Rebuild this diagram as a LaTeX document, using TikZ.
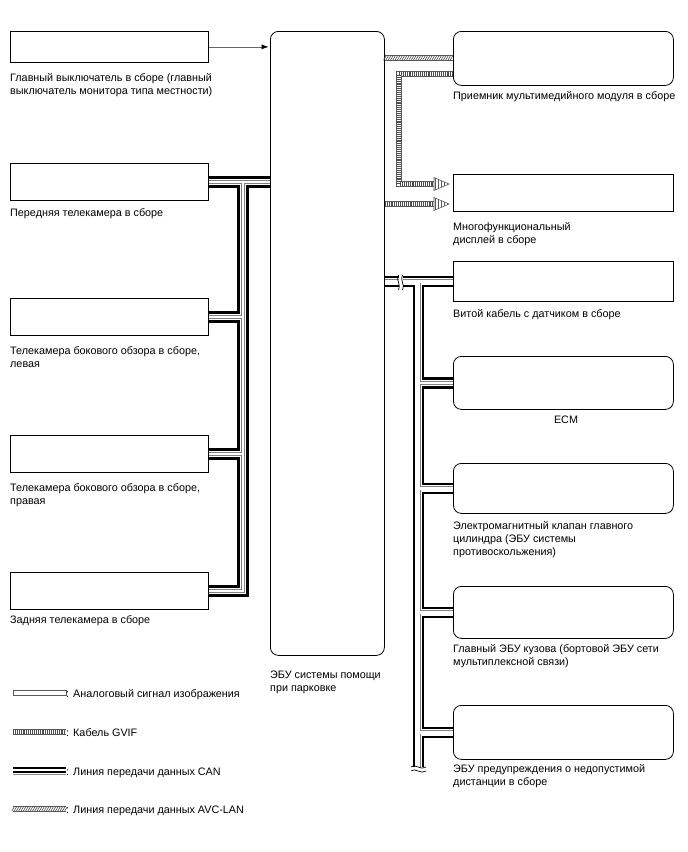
\documentclass[tikz,border=0pt]{standalone}
\usepackage{fontspec}
\setmainfont{Liberation Sans}
\usepackage{tikz}
\usetikzlibrary{positioning, arrows.meta, calc, decorations.markings, patterns}

\tikzset{
  blok/.style={draw=black, line width=0.8pt, anchor=north west, inner sep=0pt, minimum width=198pt},
  kblok/.style={blok, minimum width=220pt},
  rblok/.style={kblok, rounded corners=8pt},
  podpis/.style={anchor=base west, align=left, inner sep=0pt},
  gvif/.style={draw=black!70, line width=4.4pt, dash pattern=on 0.8pt off 1.1pt,
    preaction={draw=black!65, line width=6pt, solid},
    preaction={draw=white, line width=4.4pt, solid}},
  avclan/.style={draw=white, line width=4.6pt, preaction={draw=black!65, line width=6pt},
    postaction={decorate, decoration={markings, mark=between positions 0 and 1 step 2.3pt with
      {\draw[black!70, line width=0.6pt] (-1.3pt,-2.2pt) -- (1.3pt,2.2pt);}}}},
  strelka/.style={draw=black!65, line width=0.6pt, pattern=vertical lines, pattern color=black!65},
  razryv/.style={draw=black, line width=0.7pt},
}

\begin{document}
\begin{tikzpicture}[x=1pt, y=-1pt, font=\fontsize{10.8}{13}\selectfont]
        \fill[white] (0,0) rectangle (688,852);
        \useasboundingbox (0,0) rectangle (688,852);

        % ЭБУ системы помощи при парковке
        \node[blok, rounded corners=8pt, minimum width=114pt, minimum height=624pt] (ecu) at (270,31) {};
        \node[podpis] (ecul) at (270,691) {ЭБУ системы помощи\\при парковке};

        % Левые блоки (подписи по базовой линии последней строки)
        \node[blok, minimum height=31pt] (sw) at (10,31) {};
        \node[blok, minimum height=37pt] (cam1) at (10,163) {};
        \node[blok, minimum height=37pt] (cam2) at (10,298) {};
        \node[blok, minimum height=37pt] (cam3) at (10,435) {};
        \node[blok, minimum height=37pt] (cam4) at (10,572) {};
        \node[podpis] (swl) at (10,94) {Главный выключатель в сборе (главный\\выключатель монитора типа местности)};
        \node[podpis] (cam1l) at (10,216) {Передняя телекамера в сборе};
        \node[podpis] (cam2l) at (10,367) {Телекамера бокового обзора в сборе,\\левая};
        \node[podpis] (cam3l) at (10,504) {Телекамера бокового обзора в сборе,\\правая};
        \node[podpis] (cam4l) at (10,623) {Задняя телекамера в сборе};

        % Правые блоки
        \node[rblok, minimum height=54pt] (r1) at (453,31) {};
        \node[kblok, minimum height=37pt] (r2) at (453,174) {};
        \node[kblok, minimum height=40pt] (r3) at (453,261) {};
        \node[rblok, minimum height=53pt] (r4) at (453,356) {};
        \node[rblok, minimum height=50pt] (r5) at (453,463) {};
        \node[rblok, minimum height=52pt] (r6) at (453,586) {};
        \node[rblok, minimum height=54pt] (r7) at (453,705) {};
        \node[podpis] (r1l) at (453,99) {Приемник мультимедийного модуля в сборе};
        \node[podpis] (r2l) at (453,243) {Многофункциональный\\дисплей в сборе};
        \node[podpis] (r3l) at (453,317) {Витой кабель с датчиком в сборе};
        \node[anchor=base, inner sep=0pt] (r4l) at (566,423) {ECM};
        \node[podpis] (r5l) at (453,555) {Электромагнитный клапан главного\\цилиндра (ЭБУ системы\\противоскольжения)};
        \node[podpis] (r6l) at (453,665) {Главный ЭБУ кузова (бортовой ЭБУ сети\\мультиплексной связи)};
        \node[podpis] (r7l) at (453,785) {ЭБУ предупреждения о недопустимой\\дистанции в сборе};

        % Сигнал главного выключателя
        \draw[black!60, line width=0.6pt, shorten >=1.5pt, -{Latex[length=7pt, width=5pt, color=black]}] (sw.east) -- (sw.east -| ecu.west);

        % Шины CAN: чёрный, белый, серый и белый слои
        \coordinate (tlx) at (243,0);
        \coordinate (trx) at (418.5,0);
        \coordinate (tre) at (418.5,767);
        \foreach \cl/\lw in {black/11.5pt, white/6.5pt, black!50/4pt, white/2.6pt} {
            \draw[draw=\cl, line width=\lw] (cam1.east) -- (cam1.east -| ecu.west);
            \draw[draw=\cl, line width=\lw] (cam4.east) -| (cam1.east -| tlx);
            \draw[draw=\cl, line width=\lw] (cam2.east) -- (cam2.east -| tlx);
            \draw[draw=\cl, line width=\lw] (cam3.east) -- (cam3.east -| tlx);
            \draw[draw=\cl, line width=\lw] (ecu.east |- r3.west) -- (r3.west);
            \draw[draw=\cl, line width=\lw] (r3.west -| trx) -- (tre);
            \foreach \r in {r4,r5,r6,r7}
                \draw[draw=\cl, line width=\lw] (\r.west -| trx) -- (\r.west);
        }

        % Разрывы линии
        \fill[white] (398.5,276) rectangle (402.5,289.5);
        \draw[razryv] (398.5,275) .. controls (395.5,280) and (401.5,285) .. (398.5,290);
        \draw[razryv] (402.5,275) .. controls (399.5,280) and (405.5,285) .. (402.5,290);
        \fill[white] (412,767) rectangle (425,771);
        \draw[razryv] (411,767) .. controls (415,763) and (421,771) .. (426,767);
        \draw[razryv] (411,771) .. controls (415,767) and (421,775) .. (426,771);

        % Линия AVC-LAN
        \coordinate (av) at ($(r1.north west)+(0,27)$);
        \draw[avclan] (av -| ecu.east) -- (av);

        % Кабели GVIF
        \coordinate (g1) at ($(r1.south west)+(0,-12)$);
        \coordinate (gx) at (399,0);
        \coordinate (t1) at (449,184);
        \coordinate (t2) at (449,204);
        \draw[gvif] (g1) -| (gx |- t1) -- ($(t1)+(-15,0)$);
        \draw[gvif] (ecu.east |- t2) -- ($(t2)+(-15,0)$);
        \foreach \t in {t1,t2}
            \draw[strelka] (\t) -- ++(-15,-6.5) -- ++(0,13) -- cycle;

        % Условные обозначения
        \draw[black!65, line width=0.7pt, fill=white] (13,690.5) rectangle (66,695.5);
        \node[podpis] (lg1) at (66,697) {: Аналоговый сигнал изображения};
        \draw[gvif] (13,732) -- (66,732);
        \node[podpis] (lg2) at (66,736) {: Кабель GVIF};
        \draw[line width=2pt] (13,767.5) -- (66,767.5);
        \draw[line width=2pt] (13,771.5) -- (66,771.5);
        \draw[black!45, line width=0.8pt] (13,774.5) -- (66,774.5);
        \node[podpis] (lg3) at (66,775) {: Линия передачи данных CAN};
        \draw[avclan] (13,809) -- (66,809);
        \node[podpis] (lg4) at (66,813) {: Линия передачи данных AVC-LAN};
\end{tikzpicture}
\end{document}
